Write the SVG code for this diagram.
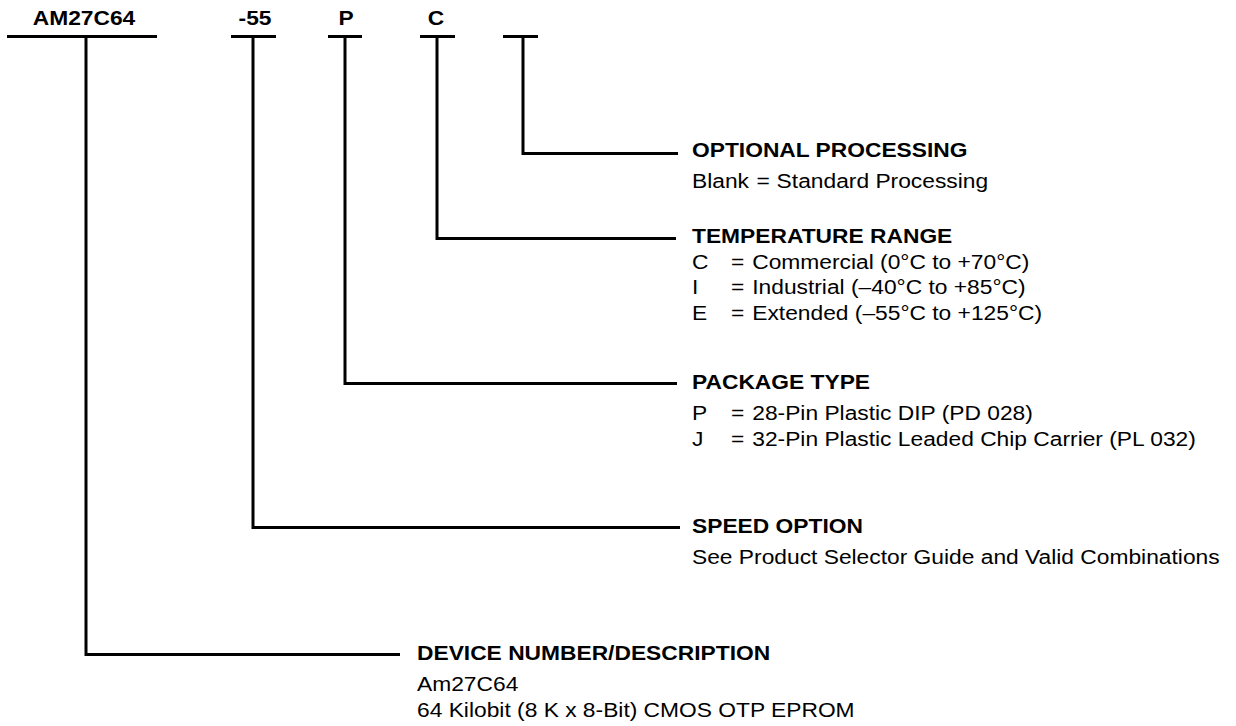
<svg xmlns="http://www.w3.org/2000/svg" width="1236" height="726" viewBox="0 0 1236 726">
<style>
  text { font-family: "Liberation Sans", Arial, Helvetica, sans-serif; font-size: 21px; fill: #000; }
  .b { font-weight: bold; }
  .m { text-anchor: middle; }
  .ln { stroke: #000; stroke-width: 3; fill: none; stroke-linecap: butt; stroke-linejoin: miter; }
</style>
<rect width="1236" height="726" fill="#fff"/>

<g id="code">
  <g transform="translate(84 24.5) scale(1.085 1)"><text class="b m" x="0" y="0">AM27C64</text></g>
  <g transform="translate(255 24.5) scale(1.085 1)"><text class="b m" x="0" y="0">-55</text></g>
  <g transform="translate(346 24.5) scale(1.085 1)"><text class="b m" x="0" y="0">P</text></g>
  <g transform="translate(436 24.5) scale(1.085 1)"><text class="b m" x="0" y="0">C</text></g>
  <path class="ln" d="M7 36.5H157M231 36.5H276M328 36.5H362M420 36.5H455M503 36.5H538"/>
</g>

<g id="connectors">
  <path class="ln" d="M523 36.5V153.5H678"/>
  <path class="ln" d="M437 36.5V238.5H676"/>
  <path class="ln" d="M345 36.5V383.5H677"/>
  <path class="ln" d="M253 36.5V527.5H680"/>
  <path class="ln" d="M86 36.5V654.5H400"/>
</g>

<g id="optional-processing" transform="translate(692 0) scale(1.085 1)">
  <text class="b" x="0" y="157">OPTIONAL PROCESSING</text>
  <text x="0" y="188">Blank<tspan x="59.5">=</tspan><tspan x="78">Standard Processing</tspan></text>
</g>

<g id="temperature-range" transform="translate(692 0) scale(1.085 1)">
  <text class="b" x="0" y="243">TEMPERATURE RANGE</text>
  <text x="0" y="269">C<tspan x="36">=</tspan><tspan x="55.5">Commercial (0°C to +70°C)</tspan></text>
  <text x="0" y="294.5">I<tspan x="36">=</tspan><tspan x="55.5">Industrial (–40°C to +85°C)</tspan></text>
  <text x="0" y="320">E<tspan x="36">=</tspan><tspan x="55.5">Extended (–55°C to +125°C)</tspan></text>
</g>

<g id="package-type" transform="translate(692 0) scale(1.085 1)">
  <text class="b" x="0" y="389.5">PACKAGE TYPE</text>
  <text x="0" y="420.5">P<tspan x="36">=</tspan><tspan x="55.5">28-Pin Plastic DIP (PD 028)</tspan></text>
  <text x="0" y="446">J<tspan x="36">=</tspan><tspan x="55.5">32-Pin Plastic Leaded Chip Carrier (PL 032)</tspan></text>
</g>

<g id="speed-option" transform="translate(692 0) scale(1.085 1)">
  <text class="b" x="0" y="533.5">SPEED OPTION</text>
  <text x="0" y="564">See Product Selector Guide and Valid Combinations</text>
</g>

<g id="device-number" transform="translate(417 0) scale(1.085 1)">
  <text class="b" x="0" y="660.5">DEVICE NUMBER/DESCRIPTION</text>
  <text x="0" y="691.5">Am27C64</text>
  <text x="0" y="717">64 Kilobit (8 K x 8-Bit) CMOS OTP EPROM</text>
</g>
</svg>
